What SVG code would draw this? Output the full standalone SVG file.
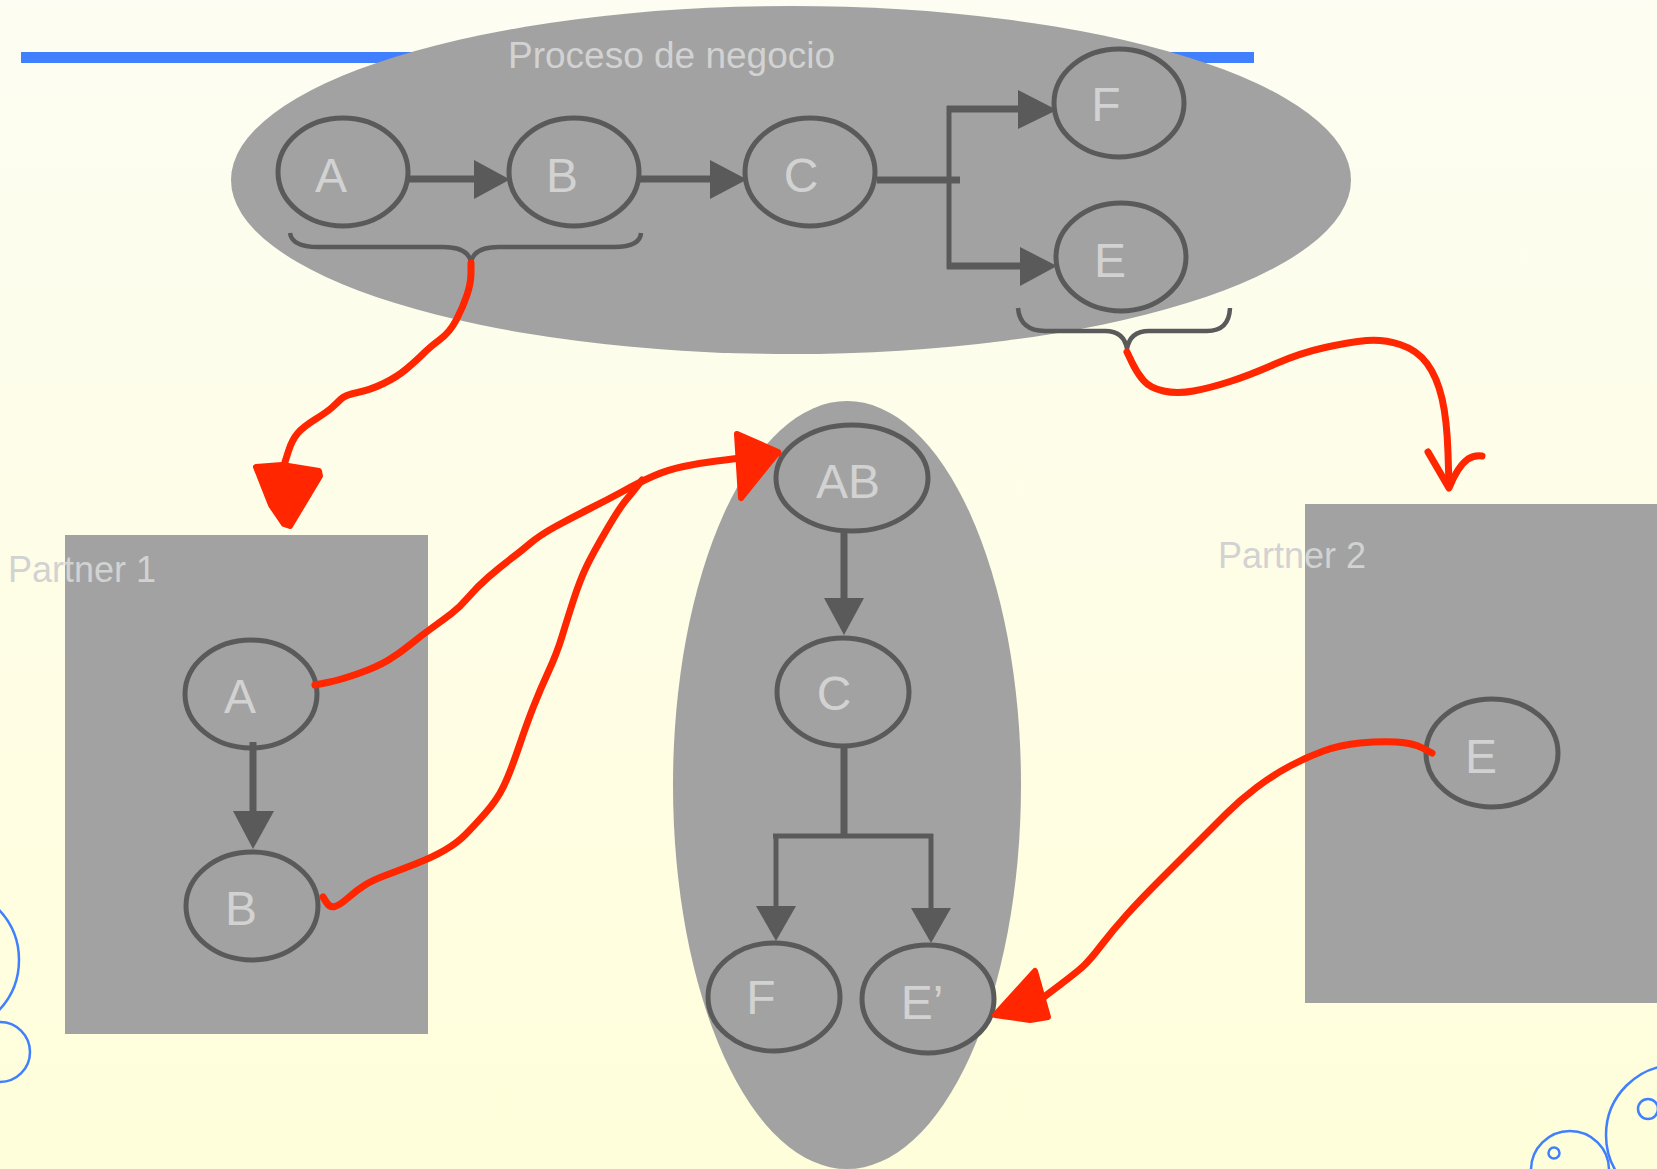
<svg xmlns="http://www.w3.org/2000/svg" width="1657" height="1169" viewBox="0 0 1657 1169">
<defs>
<linearGradient id="bg" x1="0" y1="0" x2="0" y2="1">
<stop offset="0" stop-color="#FDFDF3"/>
<stop offset="1" stop-color="#FFFEDA"/>
</linearGradient>
<style>
.deco{fill:none;stroke:#4080FF;stroke-width:2.5}
.cont{fill:#A2A2A2}
.node{fill:#A2A2A2;stroke:#5A5A5A;stroke-width:5}
.lbl{font-family:"Liberation Sans",Arial,sans-serif;font-size:48px;fill:#D2D2D2;text-anchor:middle}
.title{font-family:"Liberation Sans",Arial,sans-serif;font-size:37px;fill:#D2D2D2}
.ptitle{font-family:"Liberation Sans",Arial,sans-serif;font-size:36px;fill:#D2D2D2}
.edge{fill:none;stroke:#5A5A5A;stroke-width:7}
.thin{fill:none;stroke:#5A5A5A;stroke-width:5}
.head{fill:#5A5A5A}
.brace{fill:none;stroke:#5A5A5A;stroke-width:4.5}
.red{fill:none;stroke:#FF2600;stroke-width:7;stroke-linecap:round;stroke-linejoin:round}
.redhead{fill:#FF2600;stroke:#FF2600;stroke-width:6;stroke-linejoin:round}
</style>
</defs>
<rect x="0" y="0" width="1657" height="1169" fill="url(#bg)"/>
<g id="decoration">
<circle class="deco" cx="-54" cy="960" r="73"/>
<circle class="deco" cx="0" cy="1052" r="30"/>
<circle class="deco" cx="1676" cy="1135" r="70"/>
<circle class="deco" cx="1648" cy="1109" r="10"/>
<circle class="deco" cx="1570" cy="1170" r="39"/>
<circle class="deco" cx="1554" cy="1153" r="5.5"/>
<rect x="21" y="52" width="1233" height="11" fill="#4080FF"/>
</g>
<g id="proceso">
<ellipse class="cont" cx="791" cy="180" rx="560" ry="174"/>
<text class="title" x="508" y="68">Proceso de negocio</text>
</g>
<g id="partner1">
<rect class="cont" x="65" y="535" width="363" height="499"/>
<text class="ptitle" x="8" y="582">Partner 1</text>
</g>
<g id="central">
<ellipse class="cont" cx="847" cy="785" rx="174" ry="384"/>
</g>
<g id="partner2">
<rect class="cont" x="1305" y="504" width="400" height="499"/>
<text class="ptitle" x="1218" y="568">Partner 2</text>
</g>
<g id="top-A"><ellipse class="node" cx="343" cy="172" rx="65" ry="54"/><text class="lbl" x="331" y="192">A</text></g>
<g id="top-B"><ellipse class="node" cx="574" cy="172" rx="65" ry="54"/><text class="lbl" x="562" y="192">B</text></g>
<g id="top-C"><ellipse class="node" cx="810" cy="172" rx="65" ry="54"/><text class="lbl" x="801" y="192">C</text></g>
<g id="top-F"><ellipse class="node" cx="1119" cy="103" rx="65" ry="54"/><text class="lbl" x="1106" y="121">F</text></g>
<g id="top-E"><ellipse class="node" cx="1121" cy="257" rx="65" ry="54"/><text class="lbl" x="1110" y="277">E</text></g>
<g id="p1-A"><ellipse class="node" cx="251" cy="694" rx="66" ry="54"/><text class="lbl" x="240" y="713">A</text></g>
<g id="p1-B"><ellipse class="node" cx="252" cy="906" rx="66" ry="54"/><text class="lbl" x="241" y="925">B</text></g>
<g id="c-AB"><ellipse class="node" cx="852" cy="478" rx="76" ry="53"/><text class="lbl" x="848" y="498">AB</text></g>
<g id="c-C"><ellipse class="node" cx="843" cy="692" rx="66" ry="54"/><text class="lbl" x="834" y="710">C</text></g>
<g id="c-F"><ellipse class="node" cx="774" cy="997" rx="66" ry="54"/><text class="lbl" x="761" y="1014">F</text></g>
<g id="c-E2"><ellipse class="node" cx="928" cy="999" rx="66" ry="54"/><text class="lbl" x="922" y="1019">E’</text></g>
<g id="p2-E"><ellipse class="node" cx="1492" cy="753" rx="66" ry="54"/><text class="lbl" x="1481" y="773">E</text></g>
<g id="connectors">
<line class="edge" x1="408" y1="179" x2="476" y2="179"/>
<polygon class="head" points="474,160 510,179.5 474,199"/>
<line class="edge" x1="640" y1="179" x2="712" y2="179"/>
<polygon class="head" points="710,160 747,179.5 710,199"/>
<line class="edge" x1="877" y1="180" x2="960" y2="180"/>
<line class="thin" x1="949" y1="106" x2="949" y2="269"/>
<line class="edge" x1="947" y1="109" x2="1020" y2="109"/>
<polygon class="head" points="1018,90 1057,110 1018,129"/>
<line class="edge" x1="947" y1="266" x2="1022" y2="266"/>
<polygon class="head" points="1020,247 1057,266 1020,286"/>
<path class="brace" d="M290,233 Q292,247 318,247 L443,247 Q468,247 471,262 Q474,247 499,247 L614,247 Q640,247 641,233"/>
<path class="brace" d="M1018,308 Q1020,331 1045,331 L1105,331 Q1124,331 1127,349 Q1130,331 1149,331 L1207,331 Q1229,331 1230,308"/>
<line class="edge" x1="253" y1="742" x2="253" y2="813"/>
<polygon class="head" points="233,811 253,849 274,811"/>
<line class="edge" x1="844" y1="532" x2="844" y2="600"/>
<polygon class="head" points="824,598 844,635 864,598"/>
<line class="edge" x1="844" y1="747" x2="844" y2="836"/>
<line class="thin" x1="773" y1="836" x2="933" y2="836"/>
<line class="thin" x1="776" y1="834" x2="776" y2="908"/>
<polygon class="head" points="756,906 776,941 796,906"/>
<line class="thin" x1="931" y1="834" x2="931" y2="910"/>
<polygon class="head" points="911,908 931,943 951,908"/>
<path class="red" d="M471,263 L471,273 Q471,283 467,295 Q463,307 456.5,319.5 Q450,332 440,339.5 Q430,347 423.5,353.5 Q417,360 407,368.5 Q397,377 383.5,383.5 Q370,390 357.5,392.5 Q345,395 341,399 Q337,403 332,407.5 Q327,412 315,419.5 Q303,427 297.5,433.5 Q292,440 288.5,451 L285,462"/>
<polygon class="redhead" points="256,467 282,465 319,471 320,476 290,526 284,524 271,505"/>
<path class="red" d="M315,685 L327.5,682.5 Q340,680 358.5,673.5 Q377,667 388.5,660 Q400,653 411,644 Q422,635 432.5,627.5 Q443,620 451.5,613.5 Q460,607 468.5,597 Q477,587 488.5,577 Q500,567 510,559.5 Q520,552 530,543.5 Q540,535 556.5,526 Q573,517 590,508.5 Q607,500 623.5,491 Q640,482 653.5,476 Q667,470 683.5,466.5 Q700,463 716.5,461 Q733,459 755.5,456 L778,453"/>
<polygon class="redhead" points="737,434 778,452 741,498"/>
<path class="red" d="M323,897 L326.5,902.5 Q330,908 335,906.5 Q340,905 348.5,897.5 Q357,890 365,885 Q373,880 386.5,875 Q400,870 416.5,863.5 Q433,857 445,850 Q457,843 465,835 Q473,827 485,813.5 Q497,800 503.5,786.5 Q510,773 518.5,748 Q527,723 533.5,706.5 Q540,690 548.5,671.5 Q557,653 562,636.5 Q567,620 573.5,600 Q580,580 586.5,566.5 Q593,553 606.5,530 Q620,507 626.5,499.5 Q633,492 637.5,486 L642,480"/>
<path class="red" d="M1127,352 L1132,362.5 Q1137,373 1143.5,380.5 Q1150,388 1163.5,391 Q1177,394 1193.5,391 Q1210,388 1230,381.5 Q1250,375 1275,364 Q1300,353 1325,347.5 Q1350,342 1366.5,340.5 Q1383,339 1400,344.5 Q1417,350 1427,363.5 Q1437,377 1442,398.5 Q1447,420 1448,453 L1449,486"/>
<path class="red" d="M1428,452 L1449,488 Q1458,466 1468,459 Q1474,455 1482,456"/>
<path class="red" d="M1432,753 L1422.5,748 Q1413,743 1396.5,742 Q1380,741 1360,743 Q1340,745 1323.5,751 Q1307,757 1290,766 Q1273,775 1256.5,787.5 Q1240,800 1226.5,813.5 Q1213,827 1196.5,843.5 Q1180,860 1160,880 Q1140,900 1126.5,915 Q1113,930 1101.5,945 Q1090,960 1083.5,966 Q1077,972 1058.5,986 L1040,1000"/>
<polygon class="redhead" points="995,1015 1035,971 1048,1017 1030,1020"/>
</g>
</svg>
